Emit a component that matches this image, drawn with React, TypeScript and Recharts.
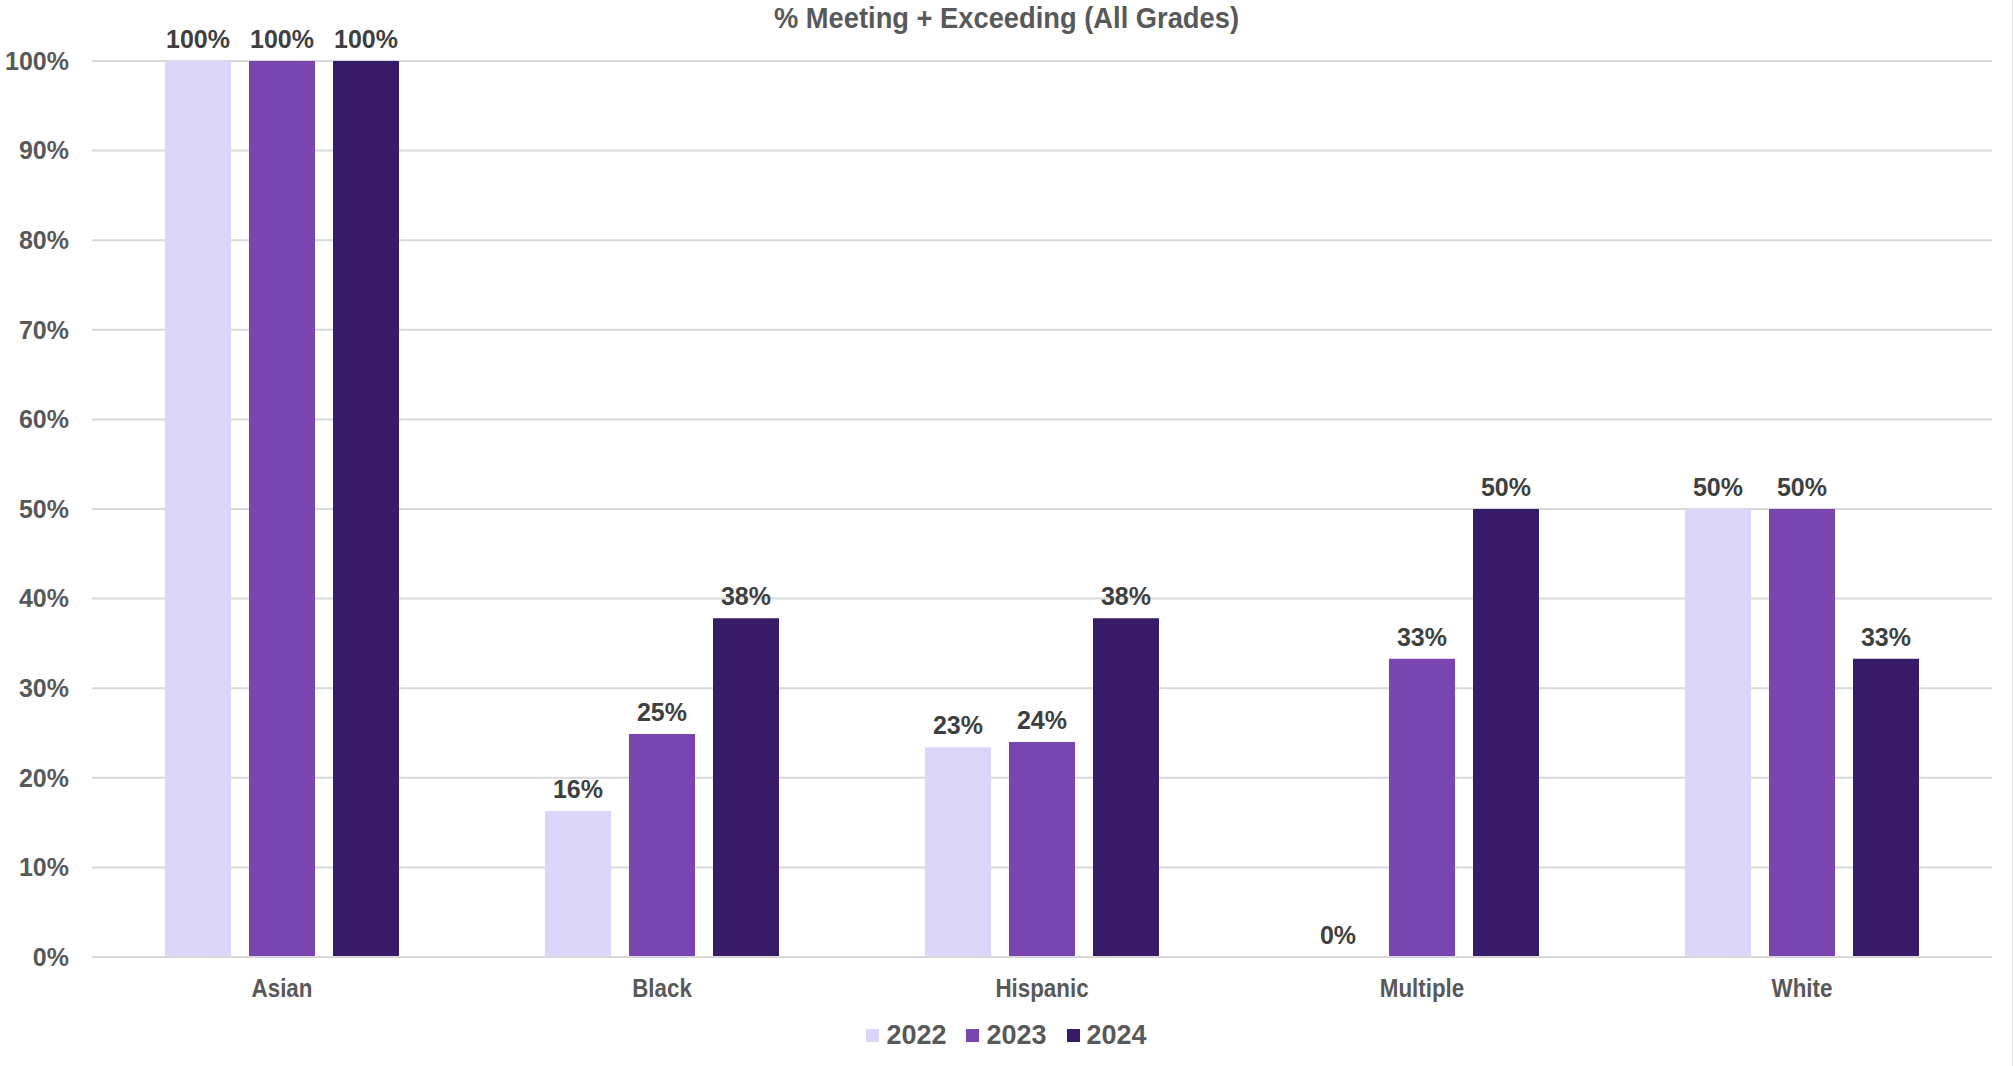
import React from "react";
import { BarChart, Bar, XAxis, YAxis, CartesianGrid, Legend, LabelList } from "recharts";

const groups = ["Asian", "Black", "Hispanic", "Multiple", "White"];
const years = ["2022", "2023", "2024"];
const v2022 = [100, 16.3, 23.4, 0, 50];
const v2023 = [100, 24.9, 24.0, 33.3, 50];
const v2024 = [100, 37.8, 37.8, 50, 33.3];
const yTicks = [0, 10, 20, 30, 40, 50, 60, 70, 80, 90, 100];

const COLORS = ["#DCD6FC", "#7B45B1", "#371B66"];
const W = 2013;
const H = 1066;
const FONT = '"Liberation Sans", Arial, sans-serif';

const data = groups.map((g, i) => ({
  name: g,
  "2022": v2022[i],
  "2023": v2023[i],
  "2024": v2024[i],
}));

const pct = (v: any) => `${Math.round(Number(v))}%`;

// category labels are a condensed face in the original, squeeze them a bit
function CategoryTick({ x, y, payload }: any) {
  return (
    <g transform={`translate(${x},${y})`}>
      <text
        transform="scale(0.86,1)"
        textAnchor="middle"
        dy={40}
        fontFamily={FONT}
        fontWeight={700}
        fontSize={26}
        fill="#595959"
      >
        {payload.value}
      </text>
    </g>
  );
}

function LegendBox({ payload }: any) {
  return (
    <div style={{ display: "flex", justifyContent: "center", alignItems: "center", gap: 20, height: 30 }}>
      {(payload || []).map((p: any) => (
        <div key={p.value} style={{ display: "flex", alignItems: "center", gap: 7 }}>
          <span style={{ width: 13, height: 13, background: p.color, display: "inline-block" }} />
          <span style={{ fontFamily: FONT, fontWeight: 700, fontSize: 27, color: "#595959", lineHeight: "30px" }}>
            {p.value}
          </span>
        </div>
      ))}
    </div>
  );
}

export default function App() {
  return (
    <div style={{ position: "absolute", left: 0, top: 0, width: W, height: H, background: "#fff" }}>
      <div
        style={{
          position: "absolute",
          left: 0,
          top: 0,
          width: W,
          textAlign: "center",
          fontFamily: FONT,
          fontWeight: 700,
          fontSize: 30,
          lineHeight: "36px",
          color: "#595959",
          transform: "scaleX(0.91)",
        }}
      >
        % Meeting + Exceeding (All Grades)
      </div>
      <div style={{ position: "absolute", right: 0, top: 0, width: 1, height: H, background: "#e3e3e3" }} />
      <BarChart
        width={W}
        height={H}
        data={data}
        margin={{ top: 61, right: 21, bottom: 79, left: 0 }}
        barSize={66}
        barGap={18}
      >
        <CartesianGrid vertical={false} stroke="#d9d9d9" strokeWidth={2} />
        <XAxis
          dataKey="name"
          axisLine={{ stroke: "#d9d9d9", strokeWidth: 2 }}
          tickLine={false}
          tickSize={0}
          tickMargin={0}
          tick={<CategoryTick />}
        />
        <YAxis
          width={92}
          domain={[0, 100]}
          ticks={yTicks}
          tickFormatter={pct}
          axisLine={false}
          tickLine={false}
          tickSize={0}
          tickMargin={23}
          interval={0}
          tick={{ fontFamily: FONT, fontWeight: 700, fontSize: 25, fill: "#595959" }}
        />
        <Legend
          verticalAlign="middle"
          align="center"
          layout="horizontal"
          wrapperStyle={{ top: 1020, left: 0, width: W }}
          content={<LegendBox />}
        />
        {years.map((y, i) => (
          <Bar key={y} dataKey={y} name={y} fill={COLORS[i]} minPointSize={0.5} isAnimationActive={false}>
            <LabelList
              dataKey={y}
              position="top"
              offset={13}
              formatter={pct}
              style={{ fontFamily: FONT, fontWeight: 700, fontSize: 25, fill: "#404040" }}
            />
          </Bar>
        ))}
      </BarChart>
    </div>
  );
}
